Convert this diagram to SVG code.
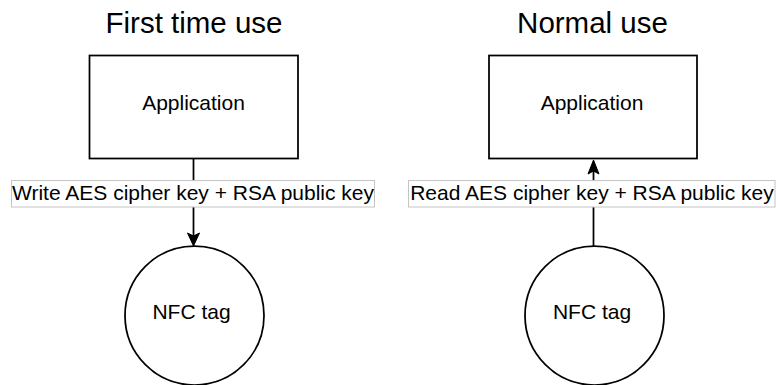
<svg xmlns="http://www.w3.org/2000/svg" width="776" height="385" viewBox="0 0 776 385">
  <defs>
    <style>
      text { font-family: "Liberation Sans", Arial, Helvetica, sans-serif; fill: #000; text-anchor: middle; }
      .title { font-size: 29.5px; }
      .lbl { font-size: 21px; }
      .shape { fill: #fff; stroke: #000; stroke-width: 1.75; }
      .edge { fill: none; stroke: #000; stroke-width: 1.75; }
      .tagbox { fill: #fff; stroke: #c4c4c4; stroke-width: 1; }
      .head { fill: #000; stroke: #000; stroke-width: 1; }
    </style>
  </defs>

  <rect width="776" height="385" fill="#fff"/>

  <!-- headings -->
  <text class="title" x="194" y="33">First time use</text>
  <text class="title" x="592.5" y="33">Normal use</text>

  <!-- connectors with their labels -->
  <g id="connectors">
    <path class="edge" d="M193.5,159 L193.5,244"/>
    <path class="head" d="M193.5,246 L187.5,233 L193.5,236 L199.5,233 Z"/>
    <path class="edge" d="M593.5,246 L593.5,162"/>
    <path class="head" d="M593.5,160 L588,174 L593.5,171 L599,174 Z"/>
    <g id="label-write">
      <rect class="tagbox" x="11.5" y="180.5" width="363" height="26.5"/>
      <text class="lbl" x="193" y="199.5">Write AES cipher key + RSA public key</text>
    </g>
    <g id="label-read">
      <rect class="tagbox" x="408.5" y="180.5" width="366.5" height="26.5"/>
      <text class="lbl" x="592" y="199.5">Read AES cipher key + RSA public key</text>
    </g>
  </g>

  <!-- first time use -->
  <g id="app-first">
    <rect class="shape" x="89.5" y="55.5" width="208.5" height="103"/>
    <text class="lbl" x="193.5" y="110">Application</text>
  </g>
  <g id="tag-first">
    <circle class="shape" cx="194.5" cy="315.5" r="69.5"/>
    <text class="lbl" x="191.5" y="318.5">NFC tag</text>
  </g>

  <!-- normal use -->
  <g id="app-normal">
    <rect class="shape" x="489" y="55.5" width="208" height="103"/>
    <text class="lbl" x="592" y="110">Application</text>
  </g>
  <g id="tag-normal">
    <circle class="shape" cx="594.5" cy="315.5" r="69.5"/>
    <text class="lbl" x="592" y="318.5">NFC tag</text>
  </g>
</svg>
